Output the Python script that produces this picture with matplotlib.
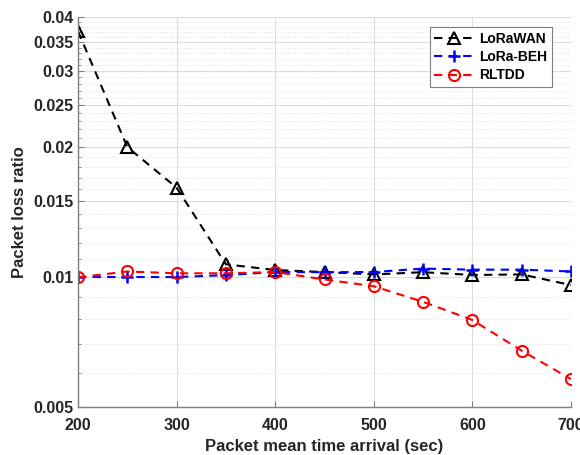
import numpy as np
import matplotlib.pyplot as plt
from matplotlib.ticker import FixedLocator, NullFormatter

# Packet loss ratio vs. packet mean inter-arrival time
arrival = [200, 250, 300, 350, 400, 450, 500, 550, 600, 650, 700]
lorawan = [0.0371, 0.0200, 0.0161, 0.0107, 0.01038, 0.01027, 0.01014, 0.01026, 0.01011, 0.01014, 0.00958]
lora_beh = [0.01000, 0.01000, 0.01000, 0.01010, 0.01027, 0.01026, 0.01027, 0.01046, 0.01040, 0.01040, 0.01030]
rltdd = [0.00998, 0.0103, 0.0102, 0.0102, 0.01027, 0.00987, 0.00952, 0.00876, 0.00795, 0.00675, 0.0058]

y_major = [0.005, 0.01, 0.015, 0.02, 0.025, 0.03, 0.035, 0.04]
y_labels = ["0.005", "0.01", "0.015", "0.02", "0.025", "0.03", "0.035", "0.04"]
x_ticks = [200, 300, 400, 500, 600, 700]

plt.rcParams["font.family"] = ["Liberation Sans", "DejaVu Sans"]
plt.rcParams["font.weight"] = "bold"

fig = plt.figure(figsize=(5.8, 4.55), dpi=100)
ax = fig.add_axes([0.1345, 0.1055, 0.85, 0.857])

dash = (4, 3)
ax.plot(arrival, lorawan, "k--", dashes=dash, marker="^", mfc="none", ms=8.5, mew=1.5, lw=1.5, label="LoRaWAN")
ax.plot(arrival, lora_beh, "--", dashes=dash, color="#0000ff", marker="+", ms=9, mew=1.8, lw=1.5, label="LoRa-BEH")
ax.plot(arrival, rltdd, "--", dashes=dash, color="#ff0000", marker="o", mfc="none", ms=8, mew=1.5, lw=1.5, label="RLTDD")

ax.set_yscale("log")
ax.set_ylim(0.005, 0.04)
ax.set_xlim(200, 700)

ax.yaxis.set_major_locator(FixedLocator(y_major))
ax.set_yticklabels(y_labels)
minor = [v / 1000 for v in range(5, 41) if v % 5 != 0]
ax.yaxis.set_minor_locator(FixedLocator(minor))
ax.yaxis.set_minor_formatter(NullFormatter())
ax.set_xticks(x_ticks)

ax.grid(True, which="major", color="#dcdcdc", lw=0.8)
ax.grid(True, which="minor", axis="y", color="#dcdcdc", lw=0.6, ls=":")
ax.set_axisbelow(True)

for s in ["top", "right"]:
    ax.spines[s].set_visible(False)
for s in ["left", "bottom"]:
    ax.spines[s].set_color("#7f7f7f")
    ax.spines[s].set_linewidth(1.0)

ax.tick_params(which="both", direction="in", colors="#7f7f7f", labelcolor="#262626", labelsize=11.5)
ax.tick_params(which="major", length=4)
ax.tick_params(which="minor", length=2)
ax.tick_params(axis="x", pad=8)
for lbl in ax.get_xticklabels() + ax.get_yticklabels():
    lbl.set_fontweight("bold")

ax.set_xlabel("Packet mean time arrival (sec)", fontsize=12, fontweight="bold", color="#262626", labelpad=4)
ax.set_ylabel("Packet loss ratio", fontsize=12, fontweight="bold", color="#262626", labelpad=4)

leg = ax.legend(loc="upper right", bbox_to_anchor=(0.961, 0.974), borderaxespad=0, fontsize=10,
                fancybox=False, framealpha=1, edgecolor="#7f7f7f", handlelength=2.8,
                borderpad=0.35, labelspacing=0.3, handletextpad=0.4)
leg.get_frame().set_linewidth(0.8)
for t in leg.get_texts():
    t.set_fontweight("bold")

fig.savefig("out.png", dpi=100)
